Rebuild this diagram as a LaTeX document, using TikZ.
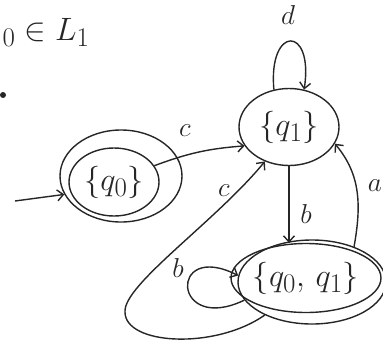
\documentclass[tikz,border=0pt]{standalone}
\usepackage{graphicx}
\usetikzlibrary{arrows.meta, shapes.geometric}
\newcommand{\bigtxt}[1]{\scalebox{1.3}{#1}}
\begin{document}
\begin{tikzpicture}[
    x=1pt, y=-1pt,
    color=black!85,
    state/.style={draw, ellipse, inner sep=0pt, line width=1.4pt, font=\Huge},
    ring/.style={draw, ellipse, inner sep=0pt, line width=1.4pt},
    arrow/.style={-{Straight Barb[length=6pt, width=11pt]}, line width=1.4pt},
    lbl/.style={font=\Huge, scale=1.1}
]
    \useasboundingbox (0,0) rectangle (383,341);
    \node[anchor=base west, font=\Huge, scale=1.3] (cond) at (-2,40) {${}_0 \in L_1$};
    \fill (3,95) circle (3);

    \node[state, minimum width=90, minimum height=68] (q0) at (114,182) {\bigtxt{$\{q_0\}$}};
    \node[ring, minimum width=122, minimum height=92] (q0out) at (121,176) {};
    \node[state, minimum width=100, minimum height=77] (q1) at (289,127) {\bigtxt{$\{q_1\}$}};
    \node[state, minimum width=132, minimum height=69] (q01) at (306,278) {\bigtxt{$\{q_0,\, q_1\}$}};
    \node[ring, minimum width=148, minimum height=84] (q01out) at (312,282) {};

    \coordinate (init) at (15,201);
    \coordinate (cturn) at (125,312);

    \draw[arrow] (init) -- (q0out.198);
    \draw[arrow] (q0.22) to[bend left=8] (q1.203);
    \draw[arrow] (q1.112) .. controls (268,25) and (314,25) .. (q1.68);
    \draw[arrow] (q1.south) -- (q01.north -| q1.south);
    \draw[arrow] (q01out.40) to[out=80, in=-50] (q1.340);
    \draw[arrow] (q01out.215) .. controls (215,350) and (125,345) .. (cturn)
        .. controls (123,285) and (215,222) .. (q1.235);
    \draw[arrow] (q01out.195) .. controls (172,335) and (168,240) .. (q01out.175);

    \node[lbl] (labc) at (185,131) {$c$};
    \node[lbl] (labd) at (288,15) {$d$};
    \node[lbl] (labb) at (306,214) {$b$};
    \node[lbl] (laba) at (375,186) {$a$};
    \node[lbl] (labc2) at (224,191) {$c$};
    \node[lbl] (labb2) at (178,268) {$b$};
\end{tikzpicture}
\end{document}
